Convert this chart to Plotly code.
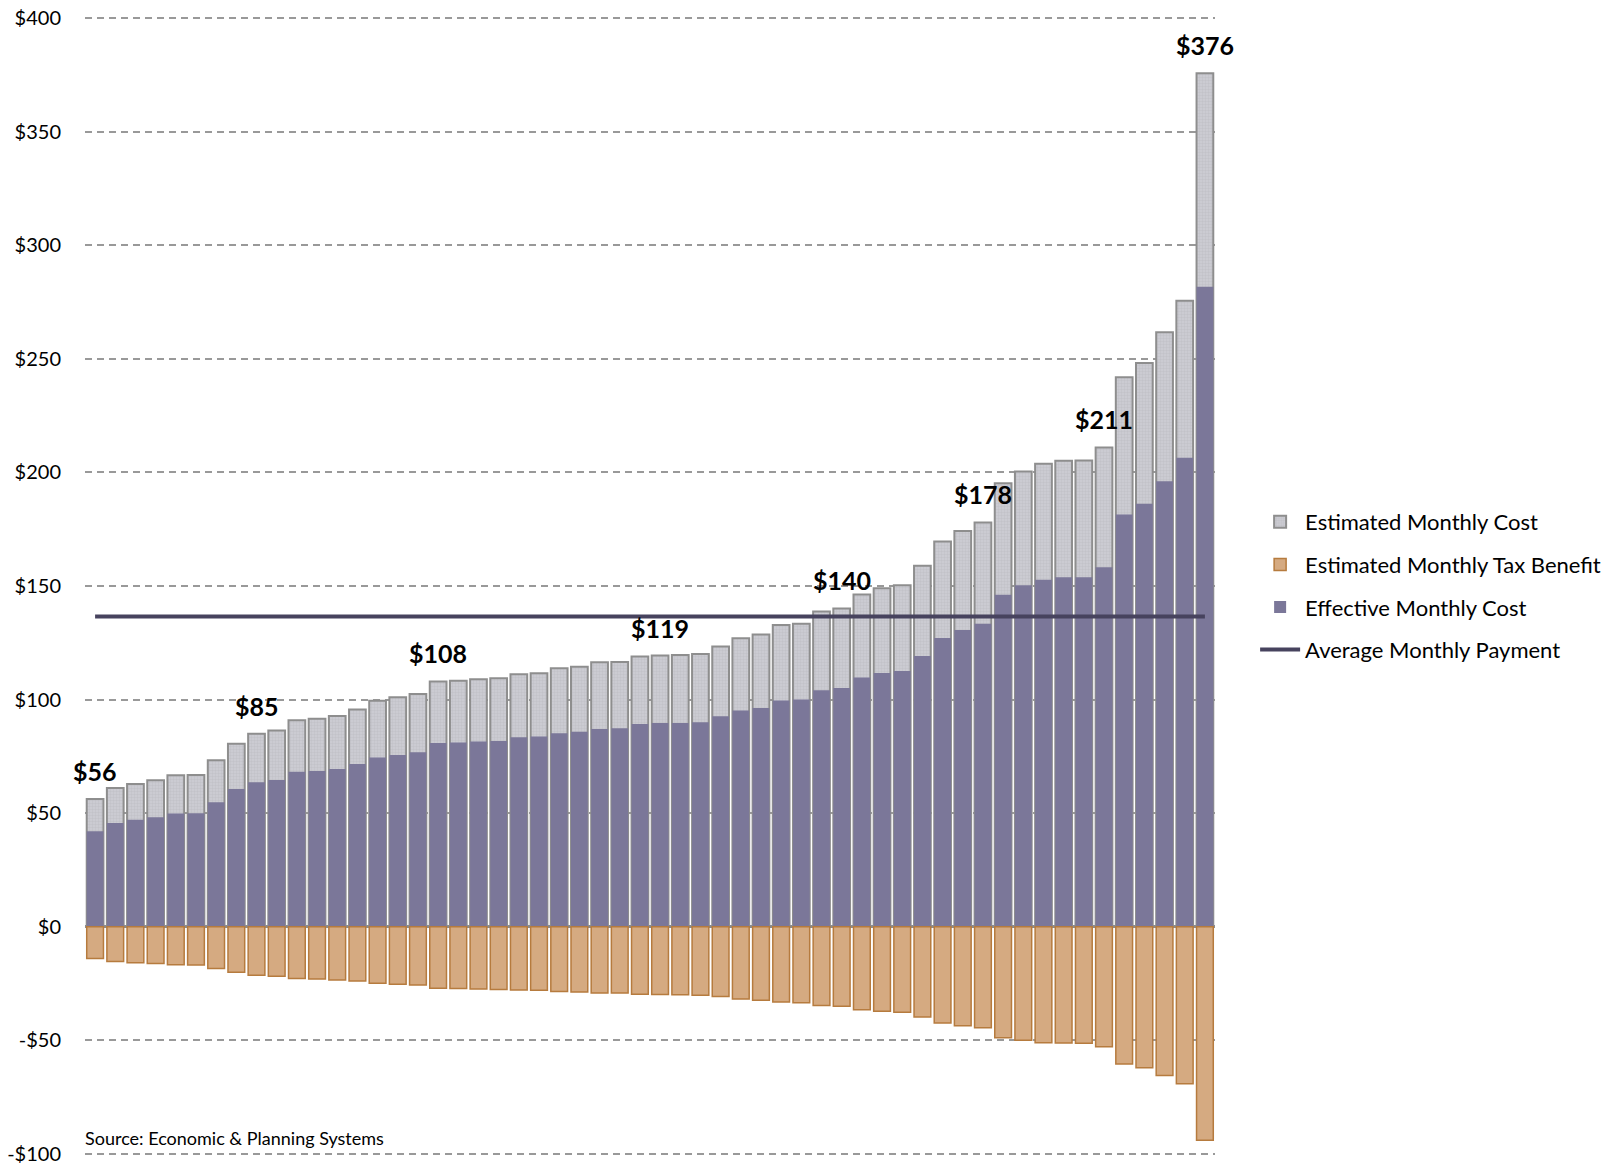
import plotly.graph_objects as go

# ---- data ----
bar_ids = list(range(1, 57))

estimated_monthly_cost = [
    56.2, 61.1, 62.9, 64.5, 66.7, 66.8, 73.3, 80.6, 85.0, 86.4,
    90.9, 91.6, 92.8, 95.6, 99.5, 101.0, 102.5, 108.0, 108.3, 108.9,
    109.4, 111.1, 111.6, 113.8, 114.5, 116.4, 116.5, 119.0, 119.4, 119.6,
    120.1, 123.4, 127.0, 128.6, 132.8, 133.4, 138.8, 140.1, 146.3, 149.0,
    150.3, 158.9, 169.6, 174.2, 178.0, 195.2, 200.4, 203.8, 205.1, 205.2,
    211.0, 241.9, 248.2, 261.7, 275.6, 375.7,
]

effective_monthly_cost = [
    42.1, 45.7, 47.1, 48.2, 49.9, 50.0, 54.8, 60.6, 63.6, 64.6,
    68.2, 68.6, 69.5, 71.7, 74.5, 75.6, 76.8, 80.9, 81.1, 81.5,
    81.8, 83.4, 83.7, 85.2, 85.8, 87.1, 87.4, 89.3, 89.7, 89.7,
    90.0, 92.7, 95.2, 96.3, 99.6, 100.0, 104.1, 105.1, 109.7, 111.7,
    112.6, 119.2, 127.1, 130.6, 133.4, 146.2, 150.3, 152.8, 153.8, 153.8,
    158.2, 181.5, 186.2, 196.1, 206.4, 281.7,
]

estimated_monthly_tax_benefit = [
    -14.0, -15.3, -15.8, -16.2, -16.7, -16.8, -18.4, -20.0, -21.3, -21.8,
    -22.8, -23.0, -23.4, -23.9, -24.9, -25.3, -25.6, -27.1, -27.2, -27.4,
    -27.6, -27.8, -27.9, -28.5, -28.7, -29.2, -29.1, -29.7, -29.8, -29.9,
    -30.1, -30.7, -31.8, -32.3, -33.1, -33.4, -34.6, -35.0, -36.5, -37.2,
    -37.6, -39.7, -42.4, -43.6, -44.5, -48.8, -50.0, -51.0, -51.2, -51.3,
    -52.8, -60.4, -62.1, -65.5, -69.1, -94.0,
]

average_monthly_payment = 136.6

labelled_bars = [1, 9, 18, 29, 38, 45, 51, 56]

tick_values = [-100, -50, 0, 50, 100, 150, 200, 250, 300, 350, 400]
tick_labels = ["-$100", "-$50", "$0", "$50", "$100", "$150", "$200",
               "$250", "$300", "$350", "$400"]

source_note = "Source: Economic & Planning Systems"

FONT = "Lato, 'Open Sans', sans-serif"

fig = go.Figure()

fig.add_trace(go.Bar(
    x=bar_ids, y=estimated_monthly_cost, name="Estimated Monthly Cost",
    legendrank=1, legendgroup="a",
    marker=dict(color="#cbcbd2", line=dict(color="#8e8e8e", width=2),
                pattern=dict(shape="+", fgcolor="#b2b2ba", size=3, solidity=0.3)),
    opacity=1,
))
fig.add_trace(go.Bar(
    x=bar_ids, y=effective_monthly_cost, name="Effective Monthly Cost",
    legendrank=3, legendgroup="c",
    marker=dict(color="#7b7799", line=dict(width=0)),
    opacity=1,
))
fig.add_trace(go.Bar(
    x=bar_ids, y=estimated_monthly_tax_benefit, name="Estimated Monthly Tax Benefit",
    legendrank=2, legendgroup="b",
    marker=dict(color="#d5aa81", line=dict(color="#b67b3e", width=1.5)),
    opacity=1,
))
fig.add_trace(go.Scatter(
    x=[bar_ids[0], bar_ids[-1]],
    y=[average_monthly_payment, average_monthly_payment],
    mode="lines", name="Average Monthly Payment",
    legendrank=4, legendgroup="d",
    line=dict(color="#47435e", width=4),
))

for b in labelled_bars:
    v = estimated_monthly_cost[b - 1]
    fig.add_annotation(
        x=b, y=v, text=f"${round(v)}", showarrow=False,
        yanchor="bottom", yshift=11,
        font=dict(family=FONT, size=25, color="#000000", weight="bold"),
    )

fig.add_annotation(
    xref="paper", yref="paper", x=0, y=0.0155, xanchor="left", yanchor="middle",
    xshift=-2,
    text=source_note, showarrow=False,
    font=dict(family=FONT, size=18, color="#000000"),
)

fig.update_layout(
    width=1614, height=1167,
    margin=dict(l=85, r=399, t=16, b=11, autoexpand=False),
    paper_bgcolor="white", plot_bgcolor="white",
    barmode="overlay", bargap=0.17,
    font=dict(family=FONT, size=20, color="#000000"),
    showlegend=True,
    legend=dict(x=1.0355, xanchor="left", y=0.5, yanchor="middle",
                font=dict(family=FONT, size=22, color="#000000"),
                tracegroupgap=11, itemwidth=40, bgcolor="rgba(0,0,0,0)"),
    xaxis=dict(range=[0.5, 56.5], showticklabels=False, showgrid=False,
               zeroline=False, showline=False, ticks="", automargin=False),
    yaxis=dict(range=[-100.9, 400.9], tickvals=tick_values, ticktext=tick_labels,
               showgrid=True, gridcolor="#999999", gridwidth=1.5,
               griddash="7px,5px", zeroline=True, zerolinecolor="#8c8c8c",
               zerolinewidth=2.5, showline=False, ticks="",
               ticklabelstandoff=23, automargin=False,
               tickfont=dict(family=FONT, size=20, color="#000000")),
)

fig.write_html("out.html")
